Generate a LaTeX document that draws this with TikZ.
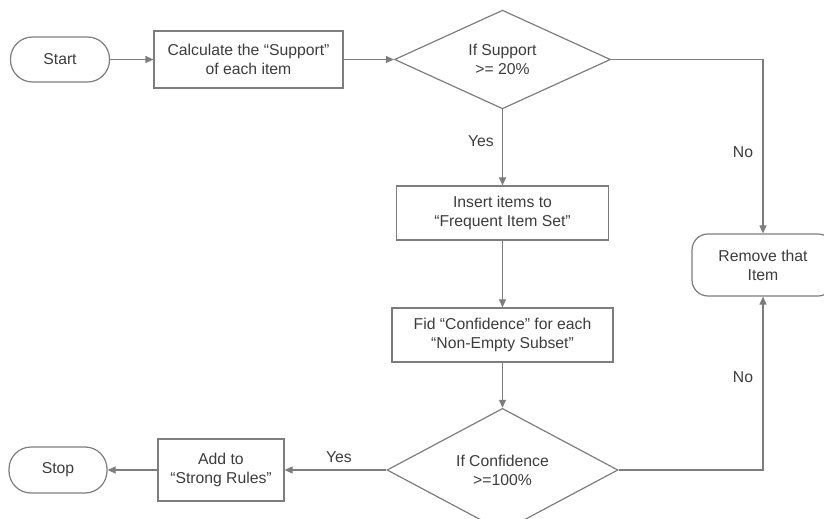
\documentclass[tikz,border=0pt]{standalone}
\usepackage{fontspec}
\setmainfont{Liberation Sans}
\usetikzlibrary{shapes.geometric,arrows.meta}
\definecolor{linegray}{RGB}{125,125,125}
\definecolor{textgray}{RGB}{60,60,60}
\tikzset{
  base/.style={draw=linegray, line width=1.2bp, text=textgray, align=center, inner sep=0pt,
    font=\fontsize{15.8}{19}\selectfont},
  procbox/.style={base, rectangle},
  termbox/.style={base, rectangle, rounded corners=22bp},
  roundbox/.style={base, rectangle, rounded corners=16bp},
  decbox/.style={base, diamond},
  lbl/.style={text=textgray, inner sep=0pt, font=\fontsize{15.8}{19}\selectfont},
  conn/.style={draw=linegray, line width=1.2bp, -{Triangle[length=8bp,width=7bp]}},
}
\begin{document}
\begin{tikzpicture}[x=1bp,y=-1bp]
\useasboundingbox (0,0) rectangle (824,519);
\node[termbox, minimum width=99bp, minimum height=45bp] (start) at (60,59.5) {Start};
\node[procbox, minimum width=189bp, minimum height=57bp] (calc) at (248.5,59.5) {Calculate the “Support”\\of each item};
\node[decbox, minimum width=216bp, minimum height=97bp] (d1) at (502.5,59.5) {If Support\\>= 20\%};
\node[procbox, minimum width=212bp, minimum height=54bp] (ins) at (502.5,213) {Insert items to\\“Frequent Item Set”};
\node[procbox, minimum width=221bp, minimum height=54bp] (fid) at (502.5,335) {Fid “Confidence” for each\\“Non-Empty Subset”};
\node[decbox, minimum width=231bp, minimum height=96bp] (d2) at (502.5,470) {If Confidence\\>=100\%};
\node[roundbox, minimum width=142bp, minimum height=62bp] (remove) at (763,265) {Remove that\\Item};
\node[procbox, minimum width=126bp, minimum height=62bp] (add) at (221,470) {Add to\\“Strong Rules”};
\node[termbox, minimum width=98bp, minimum height=46bp] (stop) at (58,470) {Stop};

\node[lbl] (yes1) at (481,141) {Yes};
\node[lbl] (no1) at (743,152) {No};
\node[lbl] (no2) at (743,377) {No};
\node[lbl] (yes2) at (339,457) {Yes};

\draw[conn] (start.east) -- (calc.west);
\draw[conn] (calc.east) -- (d1.west);
\draw[conn] (d1.east) -| (remove.north);
\draw[conn] (d1.south) -- (ins.north);
\draw[conn] (ins.south) -- (fid.north);
\draw[conn] (fid.south) -- (d2.north);
\draw[conn] (d2.east) -| (remove.south);
\draw[conn] (d2.west) -- (add.east);
\draw[conn] (add.west) -- (stop.east);
\end{tikzpicture}
\end{document}
